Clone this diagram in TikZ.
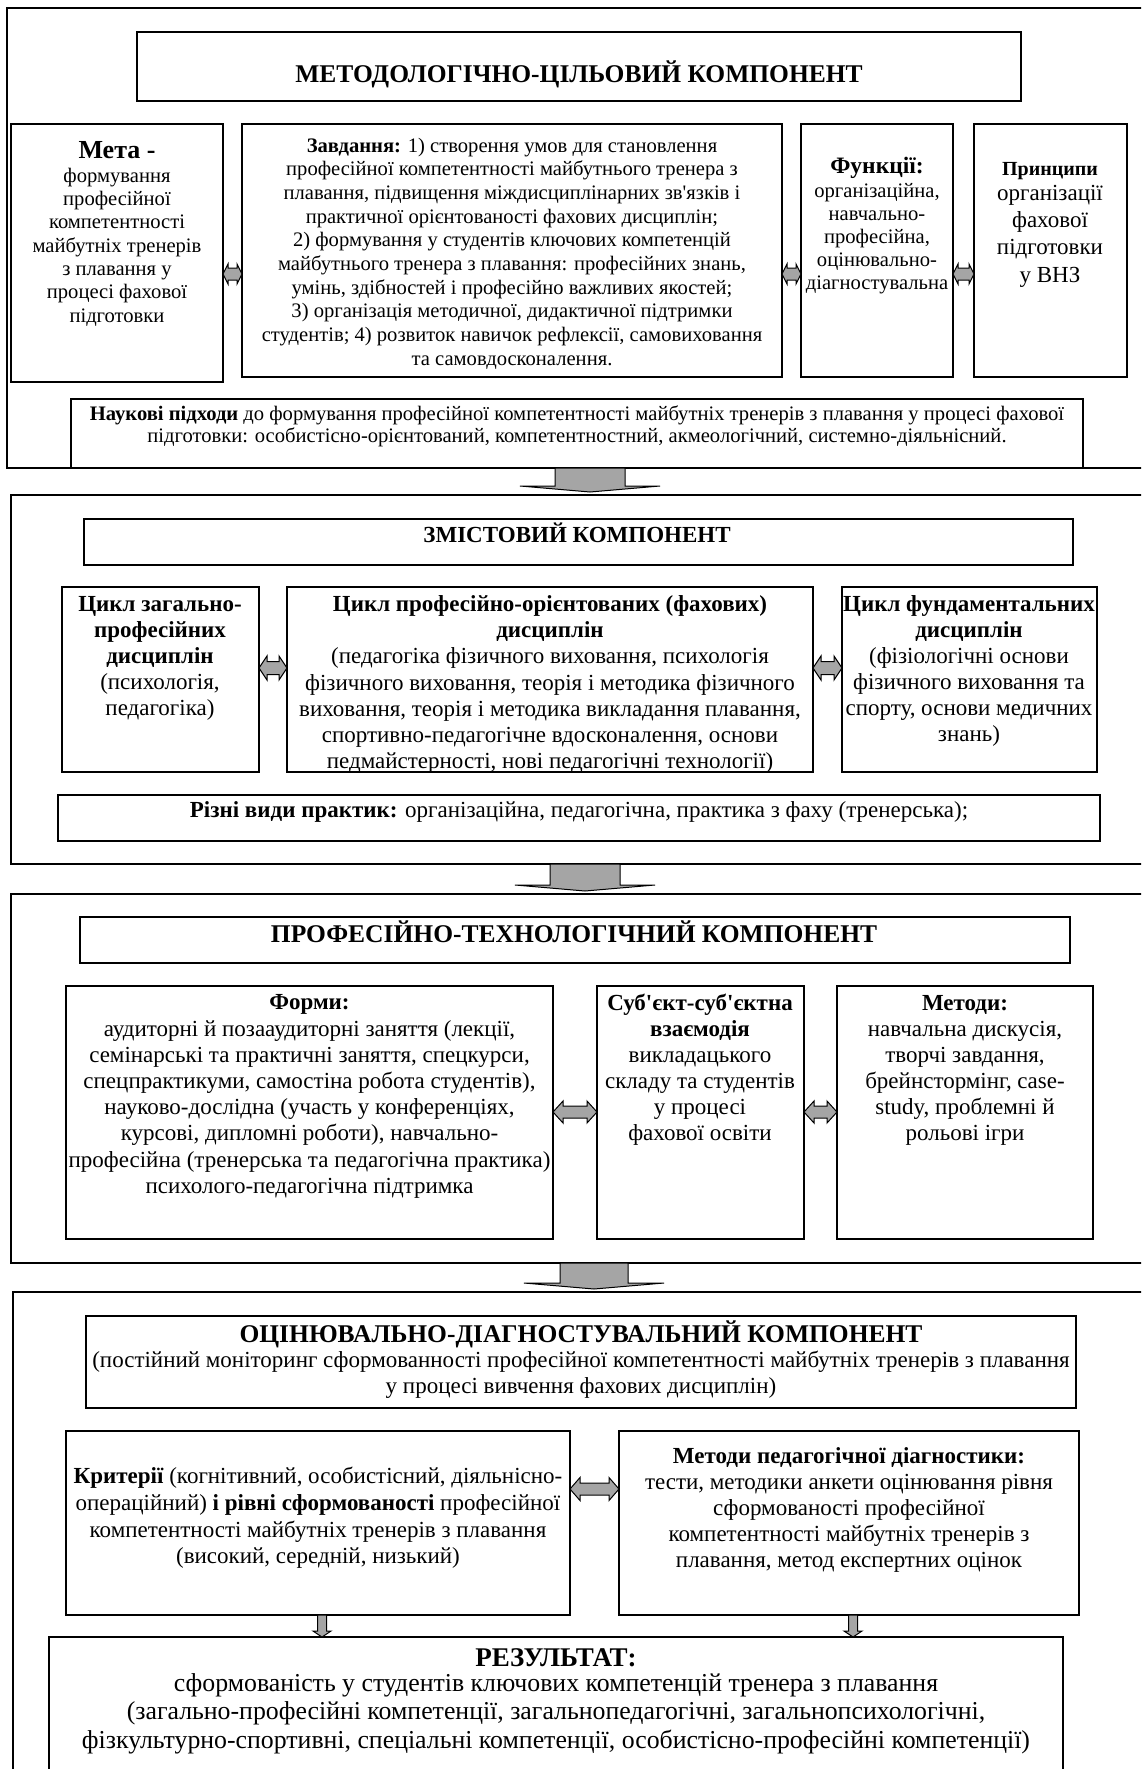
\documentclass[tikz,border=0pt]{standalone}
\usepackage{fontspec}
\setmainfont{Liberation Serif}
\newfontfamily\aposfont{Liberation Serif}
\newcommand{\ap}{{\aposfont'}}
\usetikzlibrary{calc}
\definecolor{arrgray}{RGB}{165,165,165}
\newcommand{\setfs}[2]{\fontsize{#1pt}{#2pt}\selectfont}
% horizontal double arrow: left anchor, right anchor, y, shaft half, head half, head length
\newcommand{\harrow}[6]{%
  \draw[arr] let \p1=(#1), \p2=(#2), \p3=(0,#3) in
  (\x1,\y3) -- (\x1+#6,\y3+#5) -- (\x1+#6,\y3+#4) -- (\x2-#6,\y3+#4) -- (\x2-#6,\y3+#5) -- (\x2,\y3)
  -- (\x2-#6,\y3-#5) -- (\x2-#6,\y3-#4) -- (\x1+#6,\y3-#4) -- (\x1+#6,\y3-#5) -- cycle;}
% vertical down arrow: top anchor, bottom anchor, x, shaft half, head half, head length, gap
\newcommand{\varrow}[7]{%
  \draw[arr] let \p1=(#1), \p2=(#2), \p3=(#3,0) in
  (\x3-#4,\y1) -- (\x3+#4,\y1) -- (\x3+#4,\y2+#7+#6) -- (\x3+#5,\y2+#7+#6) -- (\x3,\y2+#7)
  -- (\x3-#5,\y2+#7+#6) -- (\x3-#4,\y2+#7+#6) -- cycle;}
\begin{document}
\begin{tikzpicture}[x=1pt,y=-1pt,
  outerbox/.style={draw, line width=2pt, rectangle, inner sep=0pt, outer sep=0pt, anchor=north west},
  cbox/.style={draw, line width=1.6pt, rectangle, inner sep=0pt, outer sep=0pt, anchor=north west},
  tx/.style={align=center, inner sep=0pt, outer sep=0pt},
  arr/.style={fill=arrgray, draw=black, line width=1pt, line join=miter}]
\useasboundingbox (0,0) rectangle (1141,1769);
\clip (0,0) rectangle (1141,1769);
\fill[white] (0,0) rectangle (1141,1769);

% ---------- Section 1 ----------
\node[outerbox, minimum width=1143pt, minimum height=460pt] (f1) at (7,8) {};
\node[cbox, minimum width=884pt, minimum height=69pt] (t1) at (137,32) {};
\node[tx, anchor=base, font=\setfs{25.5}{29}\bfseries] (t1txt) at (579,82) {МЕТОДОЛОГІЧНО-ЦІЛЬОВИЙ КОМПОНЕНТ};
\node[cbox, minimum width=212pt, minimum height=258pt] (meta) at (11,124) {};
\node[tx, anchor=base, font=\setfs{26}{30}\bfseries] (metah) at (117,158) {Мета -};
\node[tx, font=\setfs{20.6}{23.3}] (metab) at (117,247) {формування\\професійної\\компетентності\\майбутніх тренерів\\з плавання у\\процесі фахової\\підготовки};
\node[cbox, minimum width=540pt, minimum height=253pt] (zav) at (242,124) {};
\node[tx, font=\setfs{20.6}{23.7}] (zavt) at (512,253.5) {\textbf{Завдання:} 1) створення умов для становлення\\професійної компетентності майбутнього тренера з\\плавання, підвищення міждисциплінарних зв\ap язків і\\практичної орієнтованості фахових дисциплін;\\2) формування у студентів ключових компетенцій\\майбутнього тренера з плавання: професійних знань,\\умінь, здібностей і професійно важливих якостей;\\3) організація методичної, дидактичної підтримки\\студентів; 4) розвиток навичок рефлексії, самовиховання\\та самовдосконалення.};
\node[cbox, minimum width=152pt, minimum height=253pt] (fun) at (801,124) {};
\node[tx, anchor=base, font=\setfs{23.5}{26}\bfseries] (funh) at (877,173) {Функції:};
\node[tx, font=\setfs{20.6}{23}] (funb) at (877,239) {організаційна,\\навчально-\\професійна,\\оцінювально-\\діагностувальна};
\node[cbox, minimum width=153pt, minimum height=253pt] (pri) at (974,124) {};
\node[tx, anchor=base, font=\setfs{20}{24}\bfseries] (prih) at (1050,175) {Принципи};
\node[tx, font=\setfs{23}{27.3}] (prib) at (1050,236) {організації\\фахової\\підготовки\\у ВНЗ};
\node[cbox, minimum width=1012pt, minimum height=69pt] (nauk) at (71,399) {};
\node[tx, font=\setfs{20.6}{22}] (naukt) at (577,426) {\textbf{Наукові підходи} до формування професійної компетентності майбутніх тренерів з плавання у процесі фахової\\підготовки: особистісно-орієнтований, компетентностний, акмеологічний, системно-діяльнісний.};

% ---------- Section 2 ----------
\node[outerbox, minimum width=1139pt, minimum height=369pt] (f2) at (11,495) {};
\node[cbox, minimum width=989pt, minimum height=46pt] (t2) at (84,519) {};
\node[tx, anchor=base, font=\setfs{23}{26}\bfseries] (t2txt) at (577,542) {ЗМІСТОВИЙ КОМПОНЕНТ};
\node[cbox, minimum width=197pt, minimum height=185pt] (c1) at (62,587) {};
\node[tx, font=\setfs{23}{26}] (c1t) at (160,658) {\textbf{Цикл загально-}\\\textbf{професійних}\\\textbf{дисциплін}\\(психологія,\\педагогіка)};
\node[cbox, minimum width=526pt, minimum height=185pt] (c2) at (287,587) {};
\node[tx, font=\setfs{23}{26.2}] (c2t) at (550,684.5) {\textbf{Цикл професійно-орієнтованих (фахових)}\\\textbf{дисциплін}\\(педагогіка фізичного виховання, психологія\\фізичного виховання, теорія і методика фізичного\\виховання, теорія і методика викладання плавання,\\спортивно-педагогічне вдосконалення, основи\\педмайстерності, нові педагогічні технології)};
\node[cbox, minimum width=255pt, minimum height=185pt] (c3) at (842,587) {};
\node[tx, font=\setfs{23}{26}] (c3t) at (969,671) {\textbf{Цикл фундаментальних}\\\textbf{дисциплін}\\(фізіологічні основи\\фізичного виховання та\\спорту, основи медичних\\знань)};
\node[cbox, minimum width=1042pt, minimum height=46pt] (prac) at (58,795) {};
\node[tx, anchor=base, font=\setfs{23}{26}] (pract) at (579,817) {\textbf{Різні види практик:} організаційна, педагогічна, практика з фаху (тренерська);};

% ---------- Section 3 ----------
\node[outerbox, minimum width=1139pt, minimum height=369pt] (f3) at (11,894) {};
\node[cbox, minimum width=990pt, minimum height=46pt] (t3) at (80,917) {};
\node[tx, anchor=base, font=\setfs{25.5}{29}\bfseries] (t3txt) at (574,942) {ПРОФЕСІЙНО-ТЕХНОЛОГІЧНИЙ КОМПОНЕНТ};
\node[cbox, minimum width=487pt, minimum height=253pt] (form) at (66,986) {};
\node[tx, font=\setfs{23}{26.2}] (formt) at (309.5,1096.5) {\textbf{Форми:}\\аудиторні й позааудиторні заняття (лекції,\\семінарські та практичні заняття, спецкурси,\\спецпрактикуми, самостіна робота студентів),\\науково-дослідна (участь у конференціях,\\курсові, дипломні роботи), навчально-\\професійна (тренерська та педагогічна практика)\\психолого-педагогічна підтримка};
\node[cbox, minimum width=207pt, minimum height=253pt] (sub) at (597,986) {};
\node[tx, font=\setfs{23}{26}] (subt) at (700,1070) {\textbf{Суб\ap єкт-суб\ap єктна}\\\textbf{взаємодія}\\викладацького\\складу та студентів\\у процесі\\фахової освіти};
\node[cbox, minimum width=256pt, minimum height=253pt] (met) at (837,986) {};
\node[tx, font=\setfs{23}{26}] (mett) at (965,1070) {\textbf{Методи:}\\навчальна дискусія,\\творчі завдання,\\брейнстормінг, case-\\study, проблемні й\\рольові ігри};

% ---------- Section 4 ----------
\node[outerbox, minimum width=1137pt, minimum height=500pt] (f4) at (13,1292) {};
\node[cbox, minimum width=990pt, minimum height=92pt] (t4) at (86,1316) {};
\node[tx, anchor=base, font=\setfs{25.5}{29}\bfseries] (t4txt) at (581,1342) {ОЦІНЮВАЛЬНО-ДІАГНОСТУВАЛЬНИЙ КОМПОНЕНТ};
\node[tx, font=\setfs{23}{26}] (t4sub) at (581,1375) {(постійний моніторинг сформованності професійної компетентності майбутніх тренерів з плавання\\у процесі вивчення фахових дисциплін)};
\node[cbox, minimum width=504pt, minimum height=184pt] (krit) at (66,1431) {};
\node[tx, font=\setfs{23}{26.6}] (kritt) at (318,1518) {\textbf{Критерії} (когнітивний, особистісний, діяльнісно-\\операційний) \textbf{і рівні сформованості} професійної\\компетентності майбутніх тренерів з плавання\\(високий, середній, низький)};
\node[cbox, minimum width=460pt, minimum height=184pt] (mpd) at (619,1431) {};
\node[tx, font=\setfs{23}{26}] (mpdt) at (849,1510) {\textbf{Методи педагогічної діагностики:}\\тести, методики анкети оцінювання рівня\\сформованості професійної\\компетентності майбутніх тренерів з\\плавання, метод експертних оцінок};
\node[cbox, minimum width=1014pt, minimum height=160pt] (res) at (49,1637) {};
\node[tx, anchor=base, font=\setfs{27}{30}\bfseries] (resh) at (556,1666) {РЕЗУЛЬТАТ:};
\node[tx, font=\setfs{25.8}{28.5}] (rest) at (556,1713.5) {сформованість у студентів ключових компетенцій тренера з плавання\\(загально-професійні компетенції, загальнопедагогічні, загальнопсихологічні,\\фізкультурно-спортивні, спеціальні компетенції, особистісно-професійні компетенції)};

% ---------- Connectors ----------
\harrow{meta.east}{zav.west}{274}{6pt}{10pt}{5pt}
\harrow{zav.east}{fun.west}{274}{6pt}{10pt}{5pt}
\harrow{fun.east}{pri.west}{274}{6pt}{10pt}{5pt}
\harrow{c1.east}{c2.west}{668}{6.5pt}{12pt}{8pt}
\harrow{c2.east}{c3.west}{668}{6.5pt}{12pt}{8pt}
\harrow{form.east}{sub.west}{1112}{6pt}{11pt}{10pt}
\harrow{sub.east}{met.west}{1112}{6pt}{11pt}{10pt}
\harrow{krit.east}{mpd.west}{1489}{6pt}{11.5pt}{10pt}
\varrow{f1.south}{f2.north}{590}{35pt}{70pt}{6pt}{3pt}
\varrow{f2.south}{f3.north}{585}{35pt}{70pt}{6pt}{3pt}
\varrow{f3.south}{f4.north}{594}{34pt}{70pt}{6pt}{3pt}
\varrow{krit.south}{res.north}{322}{4.5pt}{9pt}{6pt}{0pt}
\varrow{mpd.south}{res.north}{853}{4.5pt}{9pt}{6pt}{0pt}
\end{tikzpicture}
\end{document}
